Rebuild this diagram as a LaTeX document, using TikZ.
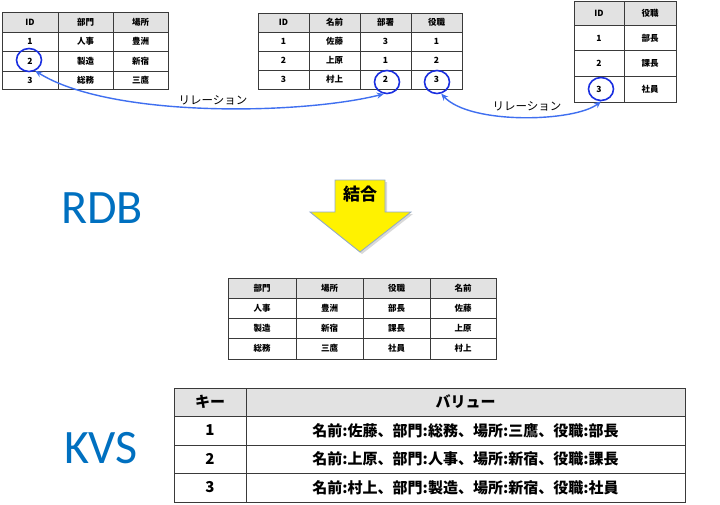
\documentclass[tikz,border=0pt]{standalone}
\usepackage{fontspec}
\setmainfont{Noto Sans CJK JP}
\newfontfamily\latinsans{Carlito}
\usetikzlibrary{arrows.meta,shapes.geometric}
\definecolor{tblline}{HTML}{3A3A3A}
\definecolor{hdrfill}{HTML}{E2E2E2}
\definecolor{rdbblue}{HTML}{0070C0}
\definecolor{relblue}{HTML}{3F6FF0}
\definecolor{circblue}{HTML}{1A2FE0}
\definecolor{arrowedge}{HTML}{8FA8CC}
\newcommand\mycell[7][]{\node[cellbox,#1,minimum width={(#5-#3)*1pt},minimum height={(#6-#4)*1pt}] (#2) at ({(#3+#5)/2},{(#4+#6)/2}) {#7};}
\tikzset{
  cellbox/.style={draw=tblline,line width=0.9pt,inner sep=0pt,fill=white,font=\fontsize{8.5}{10}\selectfont\bfseries},
  hdr/.style={fill=hdrfill},
  big/.style={font=\fontsize{15}{17}\selectfont\bfseries},
  ring/.style={ellipse,draw=circblue,line width=1.6pt,minimum width=25pt,minimum height=23pt,inner sep=0pt},
  relarrow/.style={draw=relblue,line width=1.4pt,{Stealth[length=7pt,width=6pt]}-{Stealth[length=7pt,width=6pt]}},
  rellabel/.style={font=\fontsize{11.5}{13}\selectfont},
  bigtitle/.style={text=rdbblue,font=\latinsans\fontsize{48}{50}\selectfont}
}
\begin{document}
\begin{tikzpicture}[x=1pt,y=-1pt]
\useasboundingbox[fill=white] (0,0) rectangle (720,504);
% Table 1
\mycell[hdr]{a00}{2}{12}{58}{32}{ID}
\mycell[hdr]{a01}{58}{12}{113}{32}{部門}
\mycell[hdr]{a02}{113}{12}{168}{32}{場所}
\mycell{a10}{2}{32}{58}{51}{1}
\mycell{a11}{58}{32}{113}{51}{人事}
\mycell{a12}{113}{32}{168}{51}{豊洲}
\mycell{a20}{2}{51}{58}{71}{2}
\mycell{a21}{58}{51}{113}{71}{製造}
\mycell{a22}{113}{51}{168}{71}{新宿}
\mycell{a30}{2}{71}{58}{89}{3}
\mycell{a31}{58}{71}{113}{89}{総務}
\mycell{a32}{113}{71}{168}{89}{三鷹}
% Table 2
\mycell[hdr]{b00}{258}{13}{309}{32}{ID}
\mycell[hdr]{b01}{309}{13}{360}{32}{名前}
\mycell[hdr]{b02}{360}{13}{411}{32}{部署}
\mycell[hdr]{b03}{411}{13}{462}{32}{役職}
\mycell{b10}{258}{32}{309}{51}{1}
\mycell{b11}{309}{32}{360}{51}{佐藤}
\mycell{b12}{360}{32}{411}{51}{3}
\mycell{b13}{411}{32}{462}{51}{1}
\mycell{b20}{258}{51}{309}{70}{2}
\mycell{b21}{309}{51}{360}{70}{上原}
\mycell{b22}{360}{51}{411}{70}{1}
\mycell{b23}{411}{51}{462}{70}{2}
\mycell{b30}{258}{70}{309}{89}{3}
\mycell{b31}{309}{70}{360}{89}{村上}
\mycell{b32}{360}{70}{411}{89}{2}
\mycell{b33}{411}{70}{462}{89}{3}
% Table 3
\mycell[hdr]{c00}{574}{1}{624}{25.5}{ID}
\mycell[hdr]{c01}{624}{1}{676}{25.5}{役職}
\mycell{c10}{574}{25.5}{624}{50.5}{1}
\mycell{c11}{624}{25.5}{676}{50.5}{部長}
\mycell{c20}{574}{50.5}{624}{76}{2}
\mycell{c21}{624}{50.5}{676}{76}{課長}
\mycell{c30}{574}{76}{624}{102}{3}
\mycell{c31}{624}{76}{676}{102}{社員}
% circles
\node[ring] (r1) at (29,60) {};
\node[ring] (r2) at (387,82) {};
\node[ring] (r3) at (437,82) {};
\node[ring] (r4) at (601,89) {};
% relation arrows
\draw[relarrow] (r1.-60) .. controls (110,118) and (300,115) .. (r2.-105);
\node[rellabel] (l1) at (213,100) {リレーション};
\draw[relarrow] (r3.-70) .. controls (470,125) and (575,122) .. (r4.-90);
\node[rellabel] (l2) at (527,106) {リレーション};
% titles
\node[bigtitle] (rdb) at (102,208) {RDB};
\node[bigtitle] (kvs) at (101,448) {KVS};
% block arrow
\fill[black!15] (337,182) -- (387,182) -- (387,214) -- (413,214) -- (362,254) -- (312,214) -- (337,214) -- cycle;
\draw[fill=yellow,draw=arrowedge,line width=0.8pt] (335,180) -- (385,180) -- (385,212) -- (411,212) -- (360,252) -- (310,212) -- (335,212) -- cycle;
\node[font=\fontsize{17}{19}\selectfont\bfseries] (join) at (360,194) {結合};
% Table 4
\mycell[hdr]{d00}{228}{278}{296}{298}{部門}
\mycell[hdr]{d01}{296}{278}{363}{298}{場所}
\mycell[hdr]{d02}{363}{278}{430}{298}{役職}
\mycell[hdr]{d03}{430}{278}{496}{298}{名前}
\mycell{d10}{228}{298}{296}{318}{人事}
\mycell{d11}{296}{298}{363}{318}{豊洲}
\mycell{d12}{363}{298}{430}{318}{部長}
\mycell{d13}{430}{298}{496}{318}{佐藤}
\mycell{d20}{228}{318}{296}{338}{製造}
\mycell{d21}{296}{318}{363}{338}{新宿}
\mycell{d22}{363}{318}{430}{338}{課長}
\mycell{d23}{430}{318}{496}{338}{上原}
\mycell{d30}{228}{338}{296}{359}{総務}
\mycell{d31}{296}{338}{363}{359}{三鷹}
\mycell{d32}{363}{338}{430}{359}{社員}
\mycell{d33}{430}{338}{496}{359}{村上}
% Table 5
\mycell[hdr,big]{e00}{174}{388}{246}{416}{キー}
\mycell[hdr,big]{e01}{246}{388}{685}{416}{バリュー}
\mycell[big]{e10}{174}{416}{246}{445}{1}
\mycell[big]{e11}{246}{416}{685}{445}{名前:佐藤、部門:総務、場所:三鷹、役職:部長}
\mycell[big]{e20}{174}{445}{246}{473}{2}
\mycell[big]{e21}{246}{445}{685}{473}{名前:上原、部門:人事、場所:新宿、役職:課長}
\mycell[big]{e30}{174}{473}{246}{502}{3}
\mycell[big]{e31}{246}{473}{685}{502}{名前:村上、部門:製造、場所:新宿、役職:社員}
\end{tikzpicture}
\end{document}
